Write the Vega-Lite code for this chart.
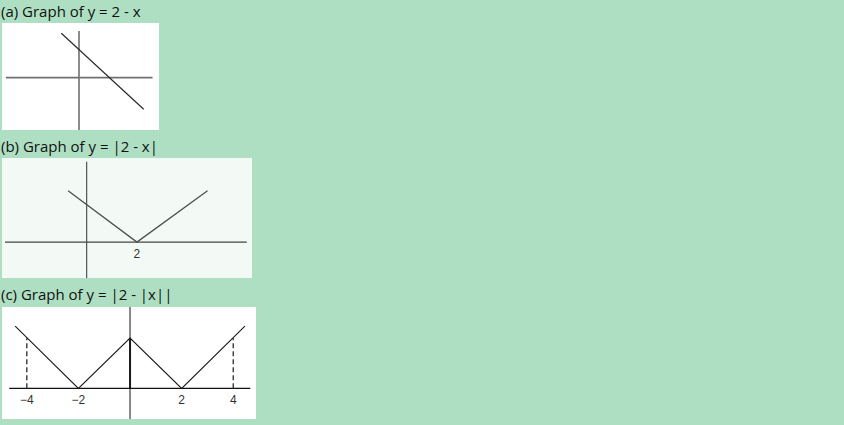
{
  "$schema": "https://vega.github.io/schema/vega-lite/v6.json",
  "background": "#aedfc2",
  "padding": {"left": 1, "top": 5, "right": 600, "bottom": 20},
  "spacing": 9,
  "config": {
    "view": {"stroke": null},
    "title": {"font": "Open Sans", "fontSize": 15, "fontWeight": "normal", "color": "#111111", "anchor": "start", "offset": 3, "dx": -1}
  },
  "datasets": {
    "a_axes": [
      {"x": -4.87, "y": 0, "x2": 4.9, "y2": 0},
      {"x": 0, "y": 3.22, "x2": 0, "y2": -3.61}
    ],
    "a_line": [
      {"x": -1.18, "y": 3.06},
      {"x": 4.31, "y": -2.18}
    ],
    "b_axes": [
      {"x": -3.25, "y": 0, "x2": 6.37, "y2": 0},
      {"x": 0, "y": 4.21, "x2": 0, "y2": -1.88}
    ],
    "b_line": [
      {"x": -0.74, "y": 2.69},
      {"x": 2, "y": 0},
      {"x": 4.81, "y": 2.69}
    ],
    "b_labels": [
      {"x": 2, "y": -0.63, "label": "2"}
    ],
    "c_haxis": [
      {"x": -4.68, "y": 0, "x2": 4.66, "y2": 0}
    ],
    "c_vaxis": [
      {"x": 0, "y": 3.24, "x2": 0, "y2": -1.22}
    ],
    "c_peak": [
      {"x": 0, "y": 0, "x2": 0, "y2": 2}
    ],
    "c_dashes": [
      {"x": -4, "y": 0, "x2": -4, "y2": 2},
      {"x": 4, "y": 0, "x2": 4, "y2": 2}
    ],
    "c_line": [
      {"x": -4.45, "y": 2.48},
      {"x": -2, "y": 0},
      {"x": 0, "y": 2},
      {"x": 2, "y": 0},
      {"x": 4.45, "y": 2.48}
    ],
    "c_labels": [
      {"x": -4, "y": -0.48, "label": "−4"},
      {"x": -2, "y": -0.48, "label": "−2"},
      {"x": 2, "y": -0.48, "label": "2"},
      {"x": 4, "y": -0.48, "label": "4"}
    ]
  },
  "vconcat": [
    {
      "title": "(a) Graph of y = 2 - x",
      "width": 157,
      "height": 107,
      "view": {"fill": "#ffffff", "stroke": null},
      "encoding": {
        "x": {"field": "x", "type": "quantitative", "scale": {"domain": [-5.13, 5.33], "nice": false, "zero": false}, "axis": null},
        "y": {"field": "y", "type": "quantitative", "scale": {"domain": [-3.61, 3.77], "nice": false, "zero": false}, "axis": null}
      },
      "layer": [
        {
          "data": {"name": "a_axes"},
          "mark": {"type": "rule", "color": "#707070", "strokeWidth": 1.6},
          "encoding": {"x2": {"field": "x2"}, "y2": {"field": "y2"}}
        },
        {
          "data": {"name": "a_line"},
          "mark": {"type": "line", "color": "#2b2b2b", "strokeWidth": 1.2},
          "encoding": {}
        }
      ]
    },
    {
      "title": "(b) Graph of y = |2 - x|",
      "width": 250,
      "height": 120,
      "view": {"fill": "#f3f9f4", "stroke": null},
      "encoding": {
        "x": {"field": "x", "type": "quantitative", "scale": {"domain": [-3.37, 6.58], "nice": false, "zero": false}, "axis": null},
        "y": {"field": "y", "type": "quantitative", "scale": {"domain": [-1.88, 4.4], "nice": false, "zero": false}, "axis": null}
      },
      "layer": [
        {
          "data": {"name": "b_axes"},
          "mark": {"type": "rule", "color": "#444444", "strokeWidth": 1.1},
          "encoding": {"x2": {"field": "x2"}, "y2": {"field": "y2"}}
        },
        {
          "data": {"name": "b_line"},
          "mark": {"type": "line", "color": "#505050", "strokeWidth": 1.3},
          "encoding": {}
        },
        {
          "data": {"name": "b_labels"},
          "mark": {"type": "text", "font": "Liberation Sans", "fontSize": 12, "color": "#333333", "baseline": "middle", "align": "center"},
          "encoding": {"text": {"field": "label"}}
        }
      ]
    },
    {
      "title": "(c) Graph of y = |2 - |x||",
      "width": 254,
      "height": 112,
      "view": {"fill": "#ffffff", "stroke": null},
      "encoding": {
        "x": {"field": "x", "type": "quantitative", "scale": {"domain": [-4.96, 4.88], "nice": false, "zero": false}, "axis": null},
        "y": {"field": "y", "type": "quantitative", "scale": {"domain": [-1.22, 3.24], "nice": false, "zero": false}, "axis": null}
      },
      "layer": [
        {
          "data": {"name": "c_vaxis"},
          "mark": {"type": "rule", "color": "#888888", "strokeWidth": 2},
          "encoding": {"x2": {"field": "x2"}, "y2": {"field": "y2"}}
        },
        {
          "data": {"name": "c_peak"},
          "mark": {"type": "rule", "color": "#1a1a1a", "strokeWidth": 2},
          "encoding": {"x2": {"field": "x2"}, "y2": {"field": "y2"}}
        },
        {
          "data": {"name": "c_haxis"},
          "mark": {"type": "rule", "color": "#111111", "strokeWidth": 1.3},
          "encoding": {"x2": {"field": "x2"}, "y2": {"field": "y2"}}
        },
        {
          "data": {"name": "c_dashes"},
          "mark": {"type": "rule", "color": "#444444", "strokeWidth": 1.5, "strokeDash": [5, 3]},
          "encoding": {"x2": {"field": "x2"}, "y2": {"field": "y2"}}
        },
        {
          "data": {"name": "c_line"},
          "mark": {"type": "line", "color": "#1a1a1a", "strokeWidth": 1.1},
          "encoding": {}
        },
        {
          "data": {"name": "c_labels"},
          "mark": {"type": "text", "font": "Liberation Sans", "fontSize": 12, "color": "#333333", "baseline": "middle", "align": "center"},
          "encoding": {"text": {"field": "label"}}
        }
      ]
    }
  ]
}
